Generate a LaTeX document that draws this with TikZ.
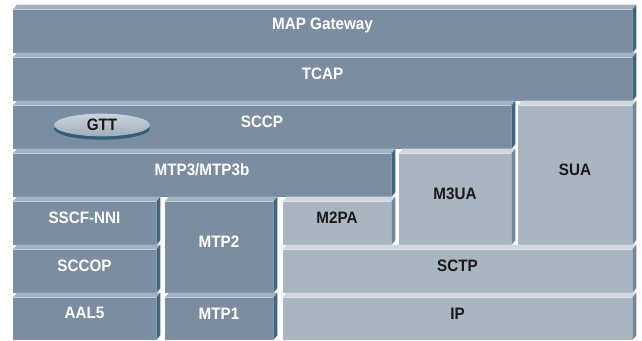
\documentclass[tikz,border=0pt]{standalone}
\usepackage{fontspec}
\setmainfont[FakeStretch=0.92]{Liberation Sans}
\usetikzlibrary{fit,shapes.geometric,shadows}

\definecolor{darkface}{HTML}{7B8DA1}
\definecolor{darktop}{HTML}{A4B1BE}
\definecolor{darkside}{HTML}{3F6580}
\definecolor{lightface}{HTML}{A9B5C0}
\definecolor{lighttop}{HTML}{D0D8DF}
\definecolor{lightside}{HTML}{71879C}
\definecolor{gtttop}{HTML}{CAD3DC}
\definecolor{gttbottom}{HTML}{A0ADB9}
\definecolor{gttrim}{HTML}{2F5F79}

% top strip and right side of a layer
\newcommand\layerbevel[3]{%
  \fill[#2] (#1.north west) -- ++(4,-5) -- ([shift={(4,-5)}]#1.north east) -- (#1.north east) -- cycle;
  \fill[#3] (#1.north east) -- ++(4,-5) -- ([shift={(4,-5)}]#1.south east) -- (#1.south east) -- cycle;}

\begin{document}
\begin{tikzpicture}[x=0.75pt,y=-0.75pt,
  dark/.style={fill=darkface,inner sep=0pt,text=white,font=\bfseries\fontsize{12.4}{14}\selectfont},
  light/.style={dark,fill=lightface,text=black!90},
  gtt/.style={ellipse,inner sep=0pt,minimum width=72pt,minimum height=17pt,
    top color=gtttop,bottom color=gttbottom,text=black!90,
    font=\bfseries\fontsize{12.4}{14}\selectfont,
    general shadow={fill=gttrim,shadow yshift=-2.5pt}}]

  \useasboundingbox (0,0) rectangle (642,340);

  \node[dark, fit={(13,10) (632,53)}] (map) {MAP Gateway};
  \layerbevel{map}{darktop}{darkside}
  \node[dark, fit={(13,58) (632,101)}] (tcap) {TCAP};
  \layerbevel{tcap}{darktop}{darkside}
  \node[dark, fit={(13,106) (511,149)}] (sccp) {SCCP};
  \layerbevel{sccp}{darktop}{darkside}
  \node[light, fit={(518,106) (632,245)}] (sua) {SUA};
  \layerbevel{sua}{lighttop}{lightside}

  \node[dark, fit={(13,154) (391,197)}] (mtp3) {MTP3/MTP3b};
  \layerbevel{mtp3}{darktop}{darkside}
  \node[light, fit={(399,154) (511,245)}] (m3ua) {M3UA};
  \layerbevel{m3ua}{lighttop}{lightside}

  \node[dark, fit={(13,202) (156,245)}] (sscf) {SSCF-NNI};
  \layerbevel{sscf}{darktop}{darkside}
  \node[dark, fit={(13,250) (156,293)}] (sccop) {SCCOP};
  \layerbevel{sccop}{darktop}{darkside}
  \node[dark, fit={(13,298) (156,340)}] (aal5) {AAL5};
  \layerbevel{aal5}{darktop}{darkside}

  \node[dark, fit={(165,202) (273,293)}] (mtp2) {MTP2};
  \layerbevel{mtp2}{darktop}{darkside}
  \node[dark, fit={(165,298) (273,340)}] (mtp1) {MTP1};
  \layerbevel{mtp1}{darktop}{darkside}

  \node[light, fit={(283,202) (391,245)}] (m2pa) {M2PA};
  \layerbevel{m2pa}{lighttop}{lightside}
  \node[light, fit={(283,250) (632,293)}] (sctp) {SCTP};
  \layerbevel{sctp}{lighttop}{lightside}
  \node[light, fit={(283,298) (632,340)}] (ip) {IP};
  \layerbevel{ip}{lighttop}{lightside}

  \node[gtt] (gtt) at (102,125) {GTT};

\end{tikzpicture}
\end{document}
